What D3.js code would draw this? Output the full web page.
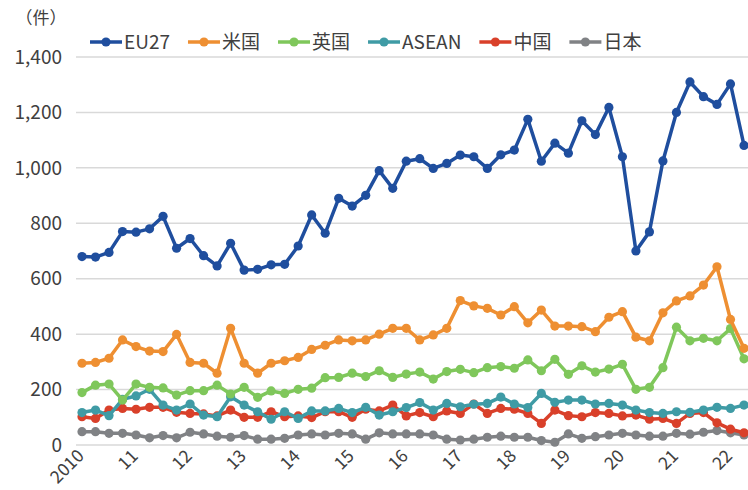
<html>
<head>
<meta charset="utf-8">
<style>
    body { margin: 0; background: #fff; }
    svg { font-family: "Noto Sans CJK JP", "Noto Sans", sans-serif; }
    .grid line { stroke: #d9d9d9; stroke-width: 1.5px; }
    .axis text { fill: #404040; font-size: 19px; }
    .xlabels text { font-size: 17.5px; }
    .series { fill: none; stroke-width: 3.5px; stroke-linejoin: round; }
</style>
</head>
<body>
<svg id="chart" width="748" height="490"></svg>
<script src="https://cdn.jsdelivr.net/npm/d3@7/dist/d3.min.js"></script>
<script>
// quarterly, 2010Q1 .. 2022Q2
let yearLabels = ["2010", "11", "12", "13", "14", "15", "16", "17", "18", "19", "20", "21", "22"]
let yTicks = [0, 200, 400, 600, 800, 1000, 1200, 1400]

let seriesNames = ["EU27", "米国", "英国", "ASEAN", "中国", "日本"]
let seriesColors = ["#1f4e9e", "#ee8f32", "#7fc75b", "#3f9ba5", "#d9402a", "#808285"]

let eu27 = [680, 678, 695, 770, 768, 780, 825, 710, 745, 683, 646, 728, 631, 634, 650, 652,
            718, 830, 764, 890, 862, 901, 990, 926, 1024, 1033, 998, 1016, 1046, 1040, 998, 1047,
            1064, 1175, 1024, 1089, 1053, 1170, 1120, 1218, 1040, 700, 769, 1025, 1200, 1310, 1257, 1229, 1303, 1081]
let usa = [295, 298, 313, 379, 355, 339, 337, 399, 298, 295, 259, 421, 295, 259, 295, 304,
           316, 345, 360, 379, 376, 379, 400, 421, 421, 379, 397, 421, 521, 502, 493, 469,
           499, 441, 487, 429, 429, 427, 409, 461, 481, 389, 376, 477, 520, 538, 577, 643, 453, 349]
let uk = [189, 216, 220, 162, 220, 208, 206, 180, 196, 196, 216, 184, 208, 172, 195, 186,
          201, 205, 243, 244, 259, 247, 268, 244, 256, 263, 238, 265, 273, 261, 279, 283,
          277, 307, 268, 309, 255, 286, 263, 274, 291, 201, 208, 279, 425, 376, 385, 376, 420, 311]
let asean = [117, 126, 106, 165, 177, 201, 144, 126, 148, 108, 102, 174, 144, 120, 93, 120,
             96, 123, 123, 132, 117, 136, 108, 120, 135, 153, 126, 150, 138, 147, 150, 173,
             148, 135, 186, 154, 162, 162, 148, 150, 144, 126, 117, 114, 120, 118, 126, 136, 132, 144]
let china = [102, 96, 126, 132, 129, 136, 136, 118, 114, 112, 105, 126, 100, 100, 120, 102,
             105, 99, 120, 120, 100, 129, 123, 144, 105, 117, 102, 123, 114, 148, 114, 132,
             129, 114, 78, 126, 106, 102, 117, 114, 105, 108, 93, 96, 78, 114, 117, 80, 57, 44]
let japan = [48, 48, 42, 42, 36, 26, 34, 26, 46, 40, 32, 28, 34, 21, 21, 24,
             36, 40, 36, 42, 40, 21, 44, 40, 40, 40, 36, 21, 18, 21, 28, 32,
             28, 28, 16, 10, 40, 24, 30, 36, 42, 36, 32, 32, 42, 39, 46, 52, 44, 36]

let allSeries = [eu27, usa, uk, asean, china, japan]

let svg = d3.select("#chart")

let xScale = d3.scaleLinear()
    .domain([0, eu27.length - 1])
    .range([82, 744])

let yScale = d3.scaleLinear()
    .domain([0, 1400])
    .range([445, 57])

// gridlines
svg.append("g")
    .attr("class", "grid")
    .selectAll("line")
    .data(yTicks)
    .enter().append("line")
    .attr("x1", 76).attr("x2", 748)
    .attr("y1", d => yScale(d)).attr("y2", d => yScale(d))

// y axis labels
svg.append("g")
    .attr("class", "axis")
    .selectAll("text")
    .data(yTicks)
    .enter().append("text")
    .attr("x", 62)
    .attr("y", d => yScale(d))
    .attr("dy", "0.35em")
    .attr("text-anchor", "end")
    .text(d => d3.format(",")(d))

svg.append("text")
    .attr("x", 41).attr("y", 24)
    .attr("text-anchor", "middle")
    .attr("fill", "#404040")
    .style("font-size", "17px")
    .text("（件）")

// x axis labels, one per year at Q1
svg.append("g")
    .attr("class", "axis xlabels")
    .selectAll("text")
    .data(yearLabels)
    .enter().append("text")
    .attr("text-anchor", "end")
    .attr("transform", (d, i) => `translate(${xScale(i * 4) + 3}, 457) rotate(-45)`)
    .text(d => d)

// lines + markers
let line = d3.line()
    .x((d, i) => xScale(i))
    .y(d => yScale(d))

allSeries.slice().reverse().forEach((values, k) => {
    let idx = allSeries.length - 1 - k
    let g = svg.append("g")
    g.append("path")
        .datum(values)
        .attr("class", "series")
        .attr("stroke", seriesColors[idx])
        .attr("d", line)
    g.selectAll("circle")
        .data(values)
        .enter().append("circle")
        .attr("cx", (d, i) => xScale(i))
        .attr("cy", d => yScale(d))
        .attr("r", 4.6)
        .attr("fill", seriesColors[idx])
})

// legend
let legend = svg.append("g")
let lx = 90
seriesNames.forEach((name, i) => {
    let item = legend.append("g").attr("transform", `translate(${lx}, 42)`)
    item.append("line")
        .attr("x1", 0).attr("x2", 32)
        .attr("stroke", seriesColors[i])
        .attr("stroke-width", 3.5)
    item.append("circle")
        .attr("cx", 16).attr("r", 4.6)
        .attr("fill", seriesColors[i])
    let t = item.append("text")
        .attr("x", 34)
        .attr("dy", "0.35em")
        .attr("fill", "#404040")
        .style("font-size", "19px")
        .text(name)
    lx += 34 + t.node().getComputedTextLength() + 18
})
</script>
</body>
</html>
